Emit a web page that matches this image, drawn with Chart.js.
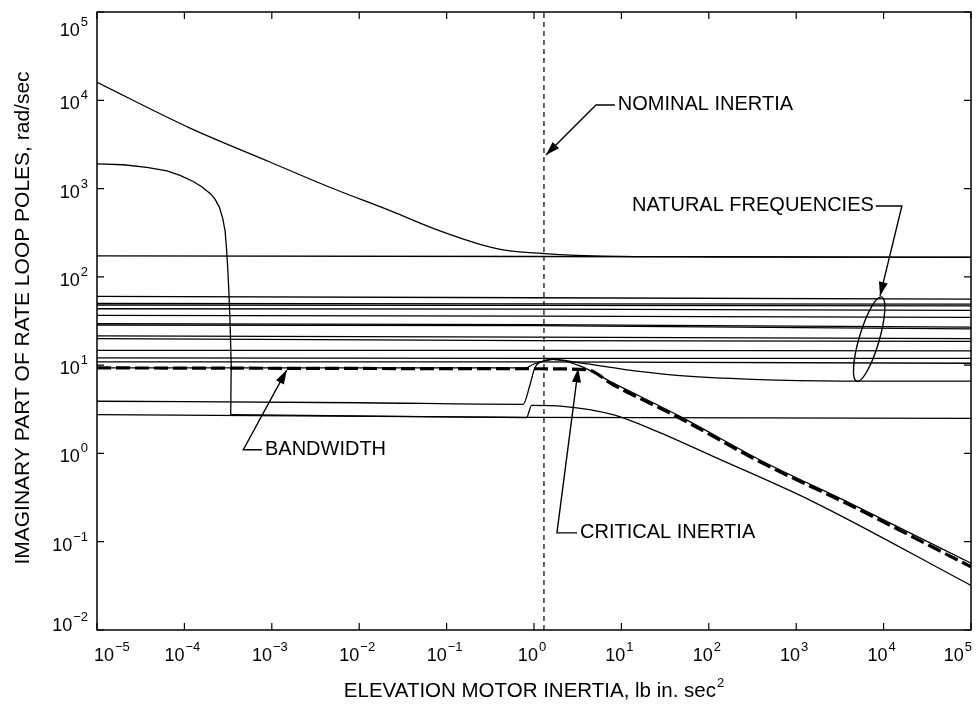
<!DOCTYPE html>
<html>
<head>
<meta charset="utf-8">
<title>Rate loop poles vs elevation motor inertia</title>
<script src="https://cdn.jsdelivr.net/npm/chart.js@4.4.1/dist/chart.umd.min.js"></script>
<style>
  html, body { margin: 0; padding: 0; background: #fff; }
  canvas { display: block; }
</style>
</head>
<body>
<canvas id="poles" width="979" height="708"></canvas>
<script>
// decades used for ticks and labels
const xDecades = [-5, -4, -3, -2, -1, 0, 1, 2, 3, 4, 5];
const yDecades = [-2, -1, 0, 1, 2, 3, 4, 5];

// motor mode: falls with inertia and lands on the ~170 rad/sec mode
const motorX = [1e-5, 1.16e-4, 9.5e-4, 4.6e-3, 0.0225, 0.084, 0.24, 0.53, 1.27, 2.6, 6, 100, 1e5];
const motorY = [16000, 4840, 2000, 1035, 562, 331, 234, 197, 184, 176, 172, 169, 167];

// pole near 1900 rad/sec that collapses at ~3e-4
const dropX = [1e-5, 2.0e-5, 3.72e-5, 6.31e-5, 8.91e-5, 1.26e-4, 1.58e-4, 2.0e-4, 2.24e-4, 2.51e-4, 2.75e-4, 2.92e-4, 3.02e-4, 3.13e-4, 3.24e-4, 3.35e-4, 3.43e-4, 3.39e-4];
const dropY = [1905, 1862, 1738, 1585, 1413, 1202, 1047, 871, 759, 617, 457, 331, 224, 126, 63, 25, 10, 2.75];

// same pole after the collapse: jumps near nominal and rolls off
const tailX = [3.39e-4, 0.1, 0.82, 0.94, 2.15, 8, 25.5, 112, 1550, 1e5];
const tailY = [2.75, 2.6, 2.55, 3.5, 3.42, 2.75, 1.78, 0.925, 0.285, 0.032];

// ~3.8 rad/sec pole that rises near nominal and rolls off
const crossX = [1e-5, 0.01, 0.75, 0.9, 1.02, 1.27, 1.65, 3.36, 8, 46.8, 417, 3800, 1e5];
const crossY = [3.9, 3.75, 3.6, 6.0, 9.3, 11.1, 11.6, 9.8, 6.3, 2.63, 0.81, 0.285, 0.057];

// pole under the bandwidth line, ends as the lowest natural frequency
const riseX = [1e-5, 0.8, 1.0, 1.3, 1.65, 3.2, 16, 47, 316, 3160, 1e5];
const riseY = [9.3, 9.3, 10.3, 11.1, 11.6, 10.7, 8.5, 7.6, 6.9, 6.6, 6.6];

// closed loop bandwidth (thick dashed)
const bandX = [1e-5, 1, 4.0, 8, 46.8, 417, 3800, 1e5];
const bandY = [9.3, 9.1, 8.9, 6.0, 2.5, 0.77, 0.27, 0.052];

// flat poles: value at left edge, at nominal, at right edge
const flatX = [1e-5, 1, 1e5];
const flatModes = [
  [173, 170, 166],
  [60, 58, 56],
  [50, 49.5, 49],
  [48, 47.5, 46.8],
  [43.5, 43, 41.7],
  [36.7, 36, 34.7],
  [29.5, 28.8, 27],
  [28.5, 28, 25.7],
  [21.4, 20.8, 20],
  [20, 19, 18.6],
  [14.7, 14.7, 14.5],
  [12.1, 11.9, 11.9],
  [10.9, 10.9, 10.5],
  [2.75, 2.56, 2.5]
];

const nominalX = [1.3, 1.3];
const nominalY = [0.01, 1e5];

// callouts, anchored in data units
const notes = [
  { text: 'NOMINAL INERTIA', at: [9.1, 8850], side: 'left', path: [[5.12, 8850], [1.37, 2400]] },
  { text: 'NATURAL FREQUENCIES', at: [13.2, 635], side: 'right', path: [[16200, 635], [9100, 60.8]] },
  { text: 'BANDWIDTH', at: [8.35e-4, 1.1], side: 'left', path: [[4.72e-4, 1.1], [1.48e-3, 8.8]] },
  { text: 'CRITICAL INERTIA', at: [3.36, 0.126], side: 'left', path: [[1.83, 0.126], [3.21, 9.2]] }
];
const ring = { at: [6840, 19.7], rx: 10, ry: 44, tilt: 16.4 };

const FONT = '"Liberation Sans", Arial, Helvetica, sans-serif';

const pts = (xs, ys) => xs.map((x, i) => ({ x: x, y: ys[i] }));

const line = (xs, ys, extra) => Object.assign({
  data: pts(xs, ys),
  showLine: true,
  borderColor: '#000',
  borderWidth: 1.3,
  pointRadius: 0,
  fill: false,
  tension: 0
}, extra || {});

const smooth = { cubicInterpolationMode: 'monotone' };

const datasets = [
  line(motorX, motorY, smooth),
  line(dropX, dropY),
  line(tailX, tailY, smooth),
  line(crossX, crossY, smooth),
  line(riseX, riseY, smooth),
  line(bandX, bandY, { borderWidth: 3.2, borderDash: [14, 5], cubicInterpolationMode: 'monotone' }),
  line(nominalX, nominalY, { borderWidth: 1.2, borderDash: [5, 4] })
];
flatModes.forEach((m) => datasets.push(line(flatX, m)));

const power = (ctx, exp, px, baseY, align) => {
  const sup = exp < 0 ? '\u2212' + Math.abs(exp) : String(exp);
  ctx.font = '18px ' + FONT;
  const wBase = ctx.measureText('10').width;
  ctx.font = '13px ' + FONT;
  const wSup = ctx.measureText(sup).width;
  const w = wBase + 1 + wSup;
  let left = px - w / 2;
  if (align === 'right') left = px - w;
  if (align === 'left') left = px;
  ctx.font = '18px ' + FONT;
  ctx.fillText('10', left, baseY);
  ctx.font = '13px ' + FONT;
  ctx.fillText(sup, left + wBase + 1, baseY - 10);
};

const arrowHead = (ctx, from, tip) => {
  const ang = Math.atan2(tip[1] - from[1], tip[0] - from[0]);
  const len = 14, half = 4.5;
  ctx.beginPath();
  ctx.moveTo(tip[0], tip[1]);
  ctx.lineTo(tip[0] - len * Math.cos(ang) + half * Math.sin(ang), tip[1] - len * Math.sin(ang) - half * Math.cos(ang));
  ctx.lineTo(tip[0] - len * Math.cos(ang) - half * Math.sin(ang), tip[1] - len * Math.sin(ang) + half * Math.cos(ang));
  ctx.closePath();
  ctx.fill();
};

const axesBox = {
  id: 'axesBox',
  afterDatasetsDraw(chart) {
    const { ctx, chartArea: a, scales: { x, y } } = chart;
    const toPx = (p) => [x.getPixelForValue(p[0]), y.getPixelForValue(p[1])];
    ctx.save();
    ctx.strokeStyle = '#000';
    ctx.fillStyle = '#000';

    // frame and inward ticks
    ctx.lineWidth = 1.5;
    ctx.strokeRect(a.left, a.top, a.width, a.height);
    ctx.lineWidth = 1.2;
    ctx.beginPath();
    xDecades.forEach((d) => {
      const px = x.getPixelForValue(Math.pow(10, d));
      ctx.moveTo(px, a.bottom); ctx.lineTo(px, a.bottom - 7);
      ctx.moveTo(px, a.top); ctx.lineTo(px, a.top + 7);
    });
    yDecades.forEach((d) => {
      const py = y.getPixelForValue(Math.pow(10, d));
      ctx.moveTo(a.left, py); ctx.lineTo(a.left + 7, py);
      ctx.moveTo(a.right, py); ctx.lineTo(a.right - 7, py);
    });
    ctx.stroke();

    // tick labels
    ctx.textAlign = 'left';
    ctx.textBaseline = 'alphabetic';
    xDecades.forEach((d, i) => {
      const px = x.getPixelForValue(Math.pow(10, d));
      if (i === 0) power(ctx, d, px - 3, a.bottom + 31, 'left');
      else if (i === xDecades.length - 1) power(ctx, d, px + 1, a.bottom + 31, 'right');
      else power(ctx, d, px - 2, a.bottom + 31, 'center');
    });
    yDecades.forEach((d, i) => {
      let py = y.getPixelForValue(Math.pow(10, d)) + 9;
      if (i === 0) py -= 8;
      if (i === yDecades.length - 1) py += 15;
      power(ctx, d, a.left - 9, py, 'right');
    });

    // axis titles
    const xTitle = 'ELEVATION MOTOR INERTIA, lb in. sec';
    ctx.font = '20.5px ' + FONT;
    const wt = ctx.measureText(xTitle).width;
    ctx.font = '13px ' + FONT;
    const w2 = ctx.measureText('2').width;
    const tx = (a.left + a.right) / 2 - (wt + 1 + w2) / 2;
    ctx.font = '20.5px ' + FONT;
    ctx.fillText(xTitle, tx, 697);
    ctx.font = '13px ' + FONT;
    ctx.fillText('2', tx + wt + 1, 687);

    ctx.save();
    ctx.translate(29, (a.top + a.bottom) / 2 - 3);
    ctx.rotate(-Math.PI / 2);
    ctx.textAlign = 'center';
    ctx.font = '21px ' + FONT;
    ctx.fillText('IMAGINARY PART OF RATE LOOP POLES, rad/sec', 0, 0);
    ctx.restore();

    // callouts
    ctx.font = '20px ' + FONT;
    ctx.textBaseline = 'middle';
    ctx.lineWidth = 1.4;
    notes.forEach((n) => {
      const p = toPx(n.at);
      const w = ctx.measureText(n.text).width;
      ctx.fillText(n.text, p[0], p[1]);
      const start = n.side === 'left' ? [p[0] - 3, p[1]] : [p[0] + w + 2, p[1]];
      const path = [start].concat(n.path.map(toPx));
      ctx.beginPath();
      ctx.moveTo(path[0][0], path[0][1]);
      path.slice(1).forEach((q) => ctx.lineTo(q[0], q[1]));
      ctx.stroke();
      arrowHead(ctx, path[path.length - 2], path[path.length - 1]);
    });

    const c = toPx(ring.at);
    ctx.beginPath();
    ctx.ellipse(c[0], c[1], ring.rx, ring.ry, ring.tilt * Math.PI / 180, 0, Math.PI * 2);
    ctx.stroke();

    ctx.restore();
  }
};

Chart.defaults.font.family = FONT;

new Chart(document.getElementById('poles'), {
  type: 'scatter',
  data: { datasets: datasets },
  options: {
    responsive: false,
    animation: false,
    layout: { padding: { left: 97, right: 8, top: 12, bottom: 78 } },
    plugins: { legend: { display: false }, tooltip: { enabled: false } },
    scales: {
      x: { type: 'logarithmic', min: 1e-5, max: 1e5, display: false },
      y: { type: 'logarithmic', min: 1e-2, max: 1e5, display: false }
    }
  },
  plugins: [axesBox]
});
</script>
</body>
</html>
